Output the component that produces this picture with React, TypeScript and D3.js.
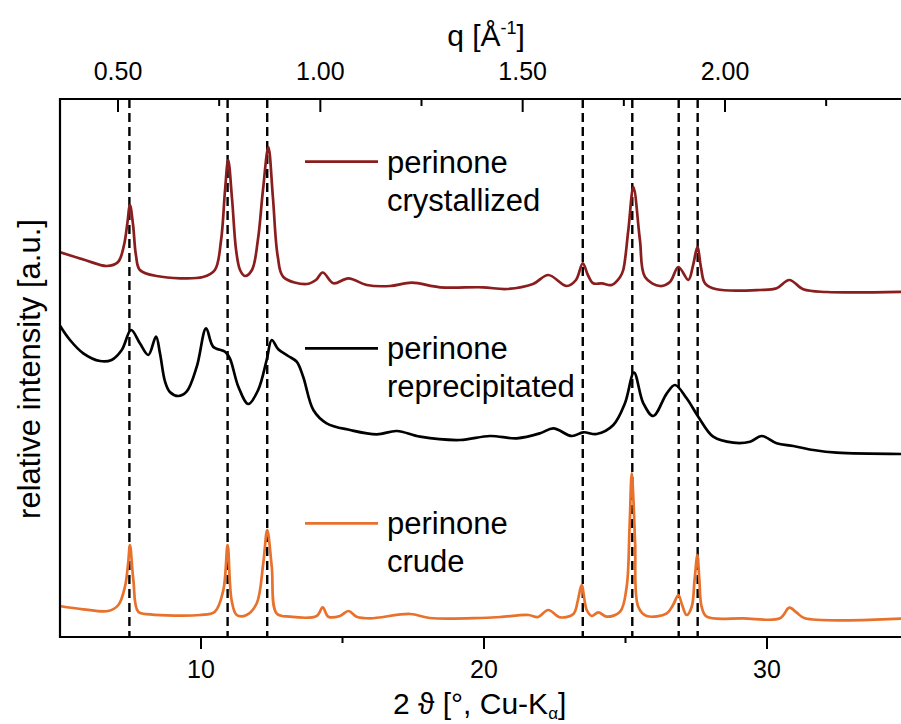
import React from "react";
import * as d3 from "d3";

// 2θ (deg) and relative intensity (a.u.)
const crystallized: [number, number][] = [
  [5.0, 385], [5.9, 377], [6.67, 371], [7.07, 375], [7.28, 392], [7.39, 412], [7.49, 432],
  [7.6, 412], [7.7, 382], [7.84, 367], [8.43, 361], [10.07, 360], [10.49, 367], [10.71, 397],
  [10.85, 447], [10.96, 477], [11.1, 437], [11.24, 387], [11.38, 367], [11.55, 361], [11.8, 367],
  [12.01, 397], [12.19, 447], [12.38, 490], [12.54, 440], [12.71, 381], [12.91, 360], [13.73, 353],
  [14.06, 357], [14.3, 364.5], [14.68, 353.7], [15.21, 358.7], [15.86, 352], [16.68, 351],
  [17.45, 354.3], [18.45, 349.7], [19.96, 349.7], [20.8, 348], [21.73, 353], [22.27, 362],
  [22.92, 351], [23.25, 357], [23.49, 373.7], [23.67, 362], [23.86, 353.7], [24.16, 353.7],
  [24.51, 352], [24.81, 360], [24.92, 367], [25.1, 407], [25.28, 450], [25.51, 397],
  [25.69, 360], [26.22, 351], [26.57, 355], [26.87, 370], [27.22, 357], [27.39, 372],
  [27.54, 390], [27.67, 369], [27.81, 353.7], [28.22, 347.7], [29.75, 347], [30.34, 348.7],
  [30.79, 357], [31.28, 347.7], [32.11, 345], [35.0, 345.3],
];

const reprecipitated: [number, number][] = [
  [5.0, 312], [5.37, 297], [5.84, 283.7], [6.43, 276], [6.84, 277], [7.2, 287], [7.53, 307],
  [7.84, 293.7], [8.14, 282], [8.41, 300.3], [8.55, 283.7], [8.73, 255.3], [8.9, 245],
  [9.2, 241], [9.49, 245.3], [9.85, 270.3], [10.18, 308.7], [10.43, 290.3], [10.85, 285.3],
  [11.02, 278.7], [11.32, 250.3], [11.67, 233], [12.02, 247], [12.32, 277], [12.5, 297],
  [12.73, 287.7], [13.08, 281], [13.38, 275.3], [13.61, 260.3], [13.97, 227], [14.44, 213.7],
  [15.27, 207], [16.21, 202.7], [16.92, 206], [17.74, 200.3], [19.15, 197], [20.21, 201],
  [21.16, 198.7], [21.98, 203.7], [22.45, 208.7], [23.1, 201], [23.51, 204.7], [23.98, 203],
  [24.57, 212], [24.98, 233.7], [25.3, 264.3], [25.63, 233.7], [25.98, 221], [26.46, 243.7],
  [26.75, 252], [27.16, 238.7], [27.57, 220.3], [28.1, 200.3], [28.81, 194.3], [29.4, 195.3],
  [29.81, 201], [30.34, 193.7], [30.93, 191], [31.64, 187], [32.46, 184.3], [35.0, 183],
];

const crude: [number, number][] = [
  [5.0, 31], [5.84, 27.7], [6.72, 26], [7.08, 32], [7.31, 50], [7.42, 72], [7.49, 92],
  [7.61, 57], [7.78, 25.3], [8.2, 22.7], [9.96, 22], [10.49, 25.3], [10.79, 47], [10.94, 92],
  [11.08, 37], [11.26, 22], [11.61, 22], [11.97, 33.7], [12.2, 73.7], [12.34, 107],
  [12.5, 70.3], [12.67, 23.7], [13.14, 20.3], [14.09, 21], [14.3, 29.7], [14.5, 20.3],
  [14.91, 21], [15.21, 26], [15.5, 20.3], [15.97, 18.7], [17.39, 23], [18.09, 19], [19.86, 19],
  [20.57, 20], [21.57, 22], [21.91, 20], [22.27, 27], [22.69, 19.7], [23.16, 23], [23.32, 37],
  [23.45, 52], [23.63, 27], [23.81, 21], [24.04, 24.7], [24.34, 20.3], [24.81, 25.3],
  [25.04, 50], [25.14, 107], [25.22, 163.7], [25.28, 137], [25.34, 93.7], [25.45, 30.3],
  [25.75, 21], [26.46, 23.7], [26.68, 32], [26.87, 42], [27.0, 32], [27.16, 22], [27.34, 30.3],
  [27.44, 57], [27.54, 82], [27.61, 57], [27.69, 30.3], [27.87, 20.3], [29.16, 18.7],
  [30.46, 18.7], [30.79, 29.3], [31.05, 24.3], [31.34, 18.7], [35.0, 18.7],
];

const referencePeaks = [7.47, 10.94, 12.34, 23.49, 25.24, 26.88, 27.55];

const bottomTicks = [10, 20, 30];
const bottomMinorTicks = [15, 25];
const topTicks = [0.5, 1.0, 1.5, 2.0];
const topMinorTicks = [0.75, 1.25, 1.75, 2.25];

const seriesNames = ["perinone crystallized", "perinone reprecipitated", "perinone crude"];
const seriesColors = ["#8a1d1d", "#000000", "#e8712b"];

export default function App() {
  const W = 901, H = 724;
  const left = 59.5, right = 908.5, top = 99, bottom = 637;
  const x = d3.scaleLinear().domain([5, 35]).range([left, right]);
  const xq = d3.scaleLinear().domain([0.3554, 2.4535]).range([left, right]);
  const y = d3.scaleLinear().domain([0, 538]).range([bottom, top]);
  const line = d3
    .line<[number, number]>()
    .x((d) => x(d[0]))
    .y((d) => y(d[1]))
    .curve(d3.curveCatmullRom.alpha(0.5));
  const data = [crystallized, reprecipitated, crude];
  const legendY = [161.7, 348.3, 523.3];
  const font = "'Liberation Sans', Arial, sans-serif";
  const fmt = d3.format(".2f");

  return (
    <svg
      width={W}
      height={H}
      style={{ position: "absolute", left: 0, top: 0, background: "#fff" }}
      fontFamily={font}
    >
      <defs>
        <clipPath id="plot">
          <rect x={left} y={top} width={right - left} height={bottom - top} />
        </clipPath>
      </defs>
      <rect x={0} y={0} width={W} height={H} fill="#fff" />
      {/* dashed reference lines */}
      {referencePeaks.map((p) => (
        <line
          key={p}
          x1={x(p)}
          x2={x(p)}
          y1={top}
          y2={bottom}
          stroke="#000"
          strokeWidth={2.4}
          strokeDasharray="9,5"
        />
      ))}
      {/* curves */}
      <g clipPath="url(#plot)">
        {data.map((d, i) => (
          <path
            key={i}
            d={line(d) || ""}
            fill="none"
            stroke={seriesColors[i]}
            strokeWidth={2.7}
            strokeLinejoin="round"
          />
        ))}
      </g>
      {/* legend */}
      {seriesNames.map((name, i) => {
        const parts = name.split(" ");
        return (
          <g key={name}>
            <line
              x1={305}
              x2={378}
              y1={legendY[i]}
              y2={legendY[i]}
              stroke={seriesColors[i]}
              strokeWidth={2.7}
            />
            <text x={387} y={legendY[i] + 11} fontSize={31} fill="#000">
              {parts[0]}
            </text>
            <text x={387} y={legendY[i] + 49} fontSize={31} fill="#000">
              {parts[1]}
            </text>
          </g>
        );
      })}
      {/* axes */}
      <line x1={left} x2={right} y1={top} y2={top} stroke="#000" strokeWidth={2.2} />
      <line x1={left} x2={right} y1={bottom} y2={bottom} stroke="#000" strokeWidth={2.2} />
      <line x1={60} x2={60} y1={top - 1} y2={bottom + 1} stroke="#000" strokeWidth={2.2} />
      {bottomTicks.map((t) => (
        <g key={t}>
          <line x1={x(t)} x2={x(t)} y1={bottom} y2={bottom + 12} stroke="#000" strokeWidth={2} />
          <text x={x(t)} y={678} fontSize={25} textAnchor="middle">
            {t}
          </text>
        </g>
      ))}
      {bottomMinorTicks.map((t) => (
        <line key={t} x1={x(t)} x2={x(t)} y1={bottom} y2={bottom + 6} stroke="#000" strokeWidth={2} />
      ))}
      {topTicks.map((t) => (
        <g key={t}>
          <line x1={xq(t)} x2={xq(t)} y1={top} y2={top + 13} stroke="#000" strokeWidth={2} />
          <text x={xq(t)} y={80} fontSize={25} textAnchor="middle">
            {fmt(t)}
          </text>
        </g>
      ))}
      {topMinorTicks.map((t) => (
        <line key={t} x1={xq(t)} x2={xq(t)} y1={top} y2={top + 7} stroke="#000" strokeWidth={2} />
      ))}
      {/* titles */}
      <text x={486} y={46} fontSize={30} textAnchor="middle">
        q [Å<tspan fontSize={18} dy={-12}>-1</tspan>
        <tspan dy={12}>]</tspan>
      </text>
      <text x={393} y={714} fontSize={30}>
        2 ϑ [°, Cu-K<tspan fontSize={17} dy={5}>α</tspan>
        <tspan dy={-5}>]</tspan>
      </text>
      <text
        transform="translate(40,369) rotate(-90)"
        fontSize={31}
        textAnchor="middle"
      >
        relative intensity [a.u.]
      </text>
    </svg>
  );
}
